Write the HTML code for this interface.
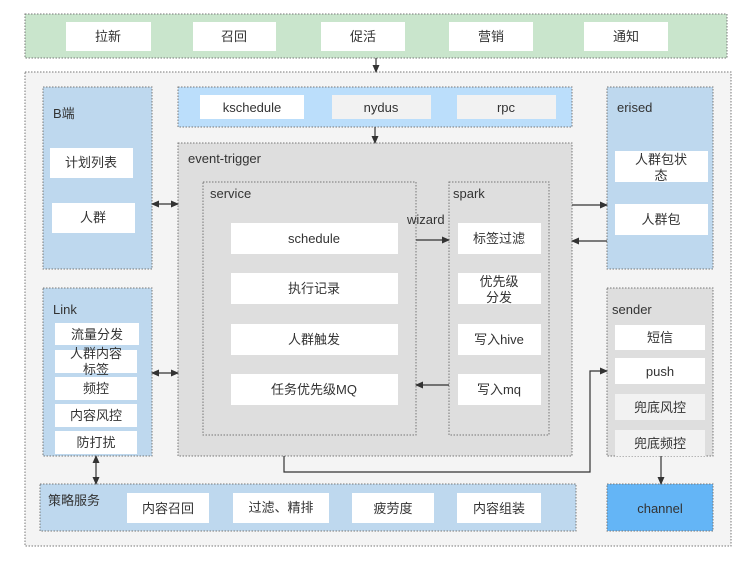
<!DOCTYPE html>
<html><head><meta charset="utf-8"><style>
body{margin:0;background:#fff}
svg text{font-family:"Liberation Sans","Noto Sans CJK SC",sans-serif;font-size:13px;fill:#333}
</style></head><body>
<svg width="749" height="563" viewBox="0 0 749 563" xmlns="http://www.w3.org/2000/svg">
<defs><marker id="a" markerWidth="8" markerHeight="8" refX="7" refY="4" orient="auto-start-reverse" markerUnits="userSpaceOnUse"><path d="M0,0.5 L8,4 L0,7.5z" fill="#333"/></marker></defs>
<g stroke="#777" stroke-dasharray="1.5,1.5" stroke-width="1">
<rect x="25" y="14" width="702" height="44" fill="#c9e5cc"/>
<rect x="25" y="72" width="706" height="474" fill="#f4f4f4"/>
<rect x="43" y="87" width="109" height="182" fill="#bed8ee"/>
<rect x="178" y="87" width="394" height="40" fill="#bbdefb"/>
<rect x="178" y="143" width="394" height="313" fill="#dedede"/>
<rect x="203" y="182" width="213" height="253" fill="#dedede"/>
<rect x="449" y="182" width="100" height="253" fill="#dedede"/>
<rect x="607" y="87" width="106" height="182" fill="#bed8ee"/>
<rect x="43" y="288" width="109" height="168" fill="#bed8ee"/>
<rect x="607" y="288" width="106" height="168" fill="#dedede"/>
<rect x="40" y="484" width="536" height="47" fill="#bed8ee"/>
<rect x="607" y="484" width="106" height="47" fill="#64b5f6"/>
</g>
<g fill="#fff">
<rect x="66" y="22" width="85" height="29"/><rect x="193" y="22" width="83" height="29"/><rect x="321" y="22" width="84" height="29"/><rect x="449" y="22" width="84" height="29"/><rect x="584" y="22" width="84" height="29"/>
<rect x="50" y="148" width="83" height="30"/><rect x="52" y="203" width="83" height="30"/>
<rect x="200" y="95" width="104" height="24"/><rect x="332" y="95" width="99" height="24" fill="#f2f2f2"/><rect x="457" y="95" width="99" height="24" fill="#f2f2f2"/>
<rect x="231" y="223" width="167" height="31"/><rect x="231" y="273" width="167" height="31"/><rect x="231" y="324" width="167" height="31"/><rect x="231" y="374" width="167" height="31"/>
<rect x="458" y="223" width="83" height="31"/><rect x="458" y="273" width="83" height="31"/><rect x="458" y="324" width="83" height="31"/><rect x="458" y="374" width="83" height="31"/>
<rect x="615" y="151" width="93" height="31"/><rect x="615" y="204" width="93" height="31"/>
<rect x="55" y="323" width="84" height="22"/><rect x="55" y="350" width="82" height="23"/><rect x="55" y="377" width="82" height="23"/><rect x="55" y="404" width="82" height="23"/><rect x="55" y="431" width="82" height="23"/>
<rect x="615" y="325" width="90" height="25"/><rect x="615" y="358" width="90" height="26"/><rect x="615" y="394" width="90" height="26" fill="#f2f2f2"/><rect x="615" y="430" width="90" height="26" fill="#f2f2f2"/>
<rect x="127" y="493" width="82" height="30"/><rect x="233" y="493" width="96" height="30"/><rect x="352" y="493" width="82" height="30"/><rect x="457" y="493" width="84" height="30"/>
</g>
<g stroke="#333" stroke-width="1.2" fill="none">
<line x1="376" y1="58" x2="376" y2="72" marker-end="url(#a)"/>
<line x1="375" y1="127" x2="375" y2="143" marker-end="url(#a)"/>
<line x1="152" y1="204" x2="178" y2="204" marker-start="url(#a)" marker-end="url(#a)"/>
<line x1="152" y1="373" x2="178" y2="373" marker-start="url(#a)" marker-end="url(#a)"/>
<line x1="96" y1="456" x2="96" y2="484" marker-start="url(#a)" marker-end="url(#a)"/>
<line x1="416" y1="240" x2="449" y2="240" marker-end="url(#a)"/>
<line x1="449" y1="385" x2="416" y2="385" marker-end="url(#a)"/>
<line x1="572" y1="205" x2="607" y2="205" marker-end="url(#a)"/>
<line x1="607" y1="241" x2="572" y2="241" marker-end="url(#a)"/>
<polyline points="284,456 284,472 590,472 590,371 607,371" marker-end="url(#a)"/>
<line x1="661" y1="456" x2="661" y2="484" marker-end="url(#a)"/>
</g>
<g text-anchor="middle">
<text x="108" y="41">拉新</text><text x="234" y="41">召回</text><text x="363" y="41">促活</text><text x="491" y="41">营销</text><text x="626" y="41">通知</text>
<text x="91" y="167">计划列表</text><text x="93" y="222">人群</text>
<text x="252" y="112" font-size="14">kschedule</text><text x="381" y="112" font-size="14">nydus</text><text x="506" y="112" font-size="14">rpc</text>
<text x="314" y="243">schedule</text><text x="314" y="293">执行记录</text><text x="314" y="344">人群触发</text><text x="314" y="394">任务优先级MQ</text>
<text x="499" y="243">标签过滤</text><text x="499" y="286">优先级</text><text x="499" y="302">分发</text><text x="499" y="344">写入hive</text><text x="499" y="394">写入mq</text>
<text x="661" y="164">人群包状</text><text x="661" y="180">态</text><text x="661" y="224">人群包</text>
<text x="97" y="339">流量分发</text><text x="96" y="358">人群内容</text><text x="96" y="374">标签</text><text x="96" y="393">频控</text><text x="96" y="420">内容风控</text><text x="96" y="447">防打扰</text>
<text x="660" y="342">短信</text><text x="660" y="376">push</text><text x="660" y="412">兜底风控</text><text x="660" y="448">兜底频控</text>
<text x="168" y="513">内容召回</text><text x="281" y="512">过滤、精排</text><text x="393" y="513">疲劳度</text><text x="499" y="513">内容组装</text>
<text x="660" y="513" font-size="14">channel</text>
</g>
<text x="53" y="118">B端</text>
<text x="188" y="163">event-trigger</text>
<text x="210" y="198">service</text>
<text x="453" y="198">spark</text>
<text x="407" y="224" font-size="12">wizard</text>
<text x="617" y="112">erised</text>
<text x="53" y="314">Link</text>
<text x="612" y="314">sender</text>
<text x="48" y="505">策略服务</text>
</svg>
</body></html>
